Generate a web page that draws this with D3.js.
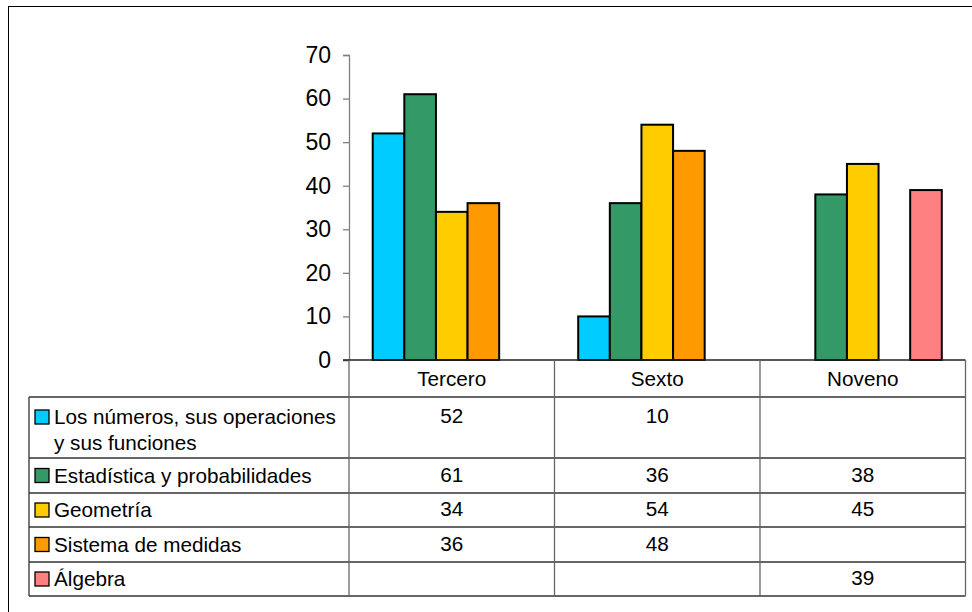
<!DOCTYPE html>
<html>
<head>
<meta charset="utf-8">
<script src="https://cdn.jsdelivr.net/npm/d3@7"></script>
<style>
  html, body { margin: 0; padding: 0; background: #fff; }
  svg { display: block; font-family: "Liberation Sans", Arial, sans-serif; }
</style>
</head>
<body>
<svg id="chart" width="972" height="612"></svg>
<script>
// Grades shown along the category axis
const categories = ["Tercero", "Sexto", "Noveno"];

// Subject areas (one bar series each)
const seriesNames = [
  "Los números, sus operaciones y sus funciones",
  "Estadística y probabilidades",
  "Geometría",
  "Sistema de medidas",
  "Álgebra"
];

// Values per subject, in category order (null = no data)
const numeros     = [52, 10, null];
const estadistica = [61, 36, 38];
const geometria   = [34, 54, 45];
const medidas     = [36, 48, null];
const algebra     = [null, null, 39];

const yTicks = [0, 10, 20, 30, 40, 50, 60, 70];

const seriesColors = ["#00CCFF", "#339966", "#FFCC00", "#FF9900", "#FF8080"];

const series = [numeros, estadistica, geometria, medidas, algebra].map((vals, i) => ({
  name: seriesNames[i],
  values: vals
}));

const svg = d3.select("#chart");

// Outer frame
svg.append("rect")
  .attr("x", 8.5).attr("y", 6.5)
  .attr("width", 1000).attr("height", 1000)
  .attr("fill", "none").attr("stroke", "#000").attr("stroke-width", 1);

// Plot geometry
const plotLeft = 349, plotRight = 965.5, plotTop = 55, plotBottom = 360;
const tableLeft = 29;

const x = d3.scaleBand().domain(categories).range([plotLeft, plotRight]);
const xInner = d3.scaleBand().domain(seriesNames)
  .range([0, x.bandwidth()]).paddingInner(0).paddingOuter(0.75);
const y = d3.scaleLinear().domain([0, 70]).range([plotBottom, plotTop]);
const color = d3.scaleOrdinal().domain(seriesNames).range(seriesColors);

// Bars
const groups = svg.append("g").selectAll("g")
  .data(series).join("g")
  .attr("fill", d => color(d.name));

groups.selectAll("rect")
  .data(d => d.values.map((v, j) => ({ name: d.name, cat: categories[j], v })).filter(e => e.v != null))
  .join("rect")
  .attr("x", e => x(e.cat) + xInner(e.name))
  .attr("y", e => y(e.v))
  .attr("width", xInner.bandwidth())
  .attr("height", e => y(0) - y(e.v))
  .attr("stroke", "#000")
  .attr("stroke-width", 2);

// Y axis
const yAxis = d3.axisLeft(y).tickValues(yTicks).tickSize(6).tickPadding(12).tickFormat(d3.format("d"));
const yg = svg.append("g").attr("transform", `translate(${plotLeft},0)`).call(yAxis);
yg.select(".domain").attr("stroke", "#808080").attr("stroke-width", 1.3);
yg.selectAll(".tick line").attr("stroke", "#808080").attr("stroke-width", 1.3);
yg.selectAll(".tick text")
  .attr("font-size", 23)
  .attr("font-family", "'Liberation Sans', Arial, sans-serif")
  .attr("fill", "#000");

// Data table under the plot
const headerBottom = 397;
const rowHeights = [61, 35, 34, 35, 34];
const rowTops = [];
let acc = headerBottom;
rowHeights.forEach(h => { rowTops.push(acc); acc += h; });
const tableBottom = acc;

const table = svg.append("g");
const lineColor = "#333";

// x-axis line (top of header row)
table.append("line")
  .attr("x1", plotLeft - 6).attr("x2", plotRight)
  .attr("y1", plotBottom).attr("y2", plotBottom)
  .attr("stroke", "#222").attr("stroke-width", 1.3);

// horizontal row lines
[headerBottom, ...rowTops.slice(1), tableBottom].forEach(yy => {
  table.append("line")
    .attr("x1", tableLeft).attr("x2", plotRight)
    .attr("y1", yy).attr("y2", yy)
    .attr("stroke", lineColor).attr("stroke-width", 1.3);
});

// vertical column lines
const colEdges = [plotLeft, ...categories.map(c => x(c) + x.bandwidth())];
colEdges.forEach(xx => {
  table.append("line")
    .attr("x1", xx).attr("x2", xx)
    .attr("y1", plotBottom).attr("y2", tableBottom)
    .attr("stroke", "#666").attr("stroke-width", 1.3);
});
table.append("line")
  .attr("x1", tableLeft).attr("x2", tableLeft)
  .attr("y1", headerBottom).attr("y2", tableBottom)
  .attr("stroke", lineColor).attr("stroke-width", 1.3);

const fontSize = 20.7;

// header labels
table.selectAll("text.cat")
  .data(categories).join("text")
  .attr("class", "cat")
  .attr("x", c => x(c) + x.bandwidth() / 2)
  .attr("y", (plotBottom + headerBottom) / 2 + 7)
  .attr("text-anchor", "middle")
  .attr("font-size", fontSize)
  .text(c => c);

// legend keys, labels and values
const labelX = 54, labelMaxW = 292, lineGap = 26;
series.forEach((s, i) => {
  const top = rowTops[i], h = rowHeights[i];
  const firstBase = h > 40 ? top + 27 : top + h / 2 + 7;

  table.append("rect")
    .attr("x", 35).attr("y", firstBase - 14)
    .attr("width", 14).attr("height", 14)
    .attr("fill", color(s.name))
    .attr("stroke", "#000").attr("stroke-width", 1.3);

  // wrap label to the column width
  const t = table.append("text")
    .attr("x", labelX).attr("y", firstBase)
    .attr("font-size", fontSize);
  const words = s.name.split(" ");
  let line = [], lineNo = 0;
  let tspan = t.append("tspan").attr("x", labelX).attr("y", firstBase);
  words.forEach(w => {
    line.push(w);
    tspan.text(line.join(" "));
    if (tspan.node().getComputedTextLength() > labelMaxW && line.length > 1) {
      line.pop();
      tspan.text(line.join(" "));
      line = [w];
      lineNo++;
      tspan = t.append("tspan").attr("x", labelX).attr("y", firstBase + lineNo * lineGap).text(w);
    }
  });

  s.values.forEach((v, j) => {
    if (v == null) return;
    table.append("text")
      .attr("x", x(categories[j]) + x.bandwidth() / 2)
      .attr("y", firstBase - 1)
      .attr("text-anchor", "middle")
      .attr("font-size", fontSize)
      .text(v);
  });
});
</script>
</body>
</html>
